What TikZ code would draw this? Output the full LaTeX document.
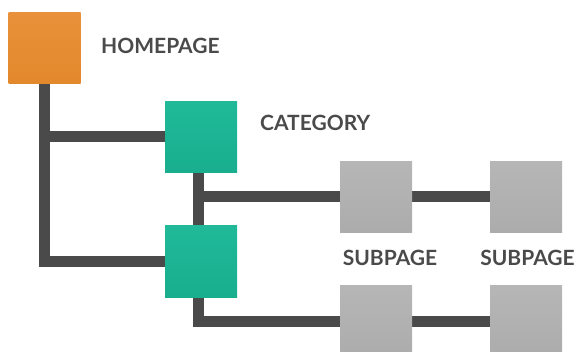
\documentclass[tikz,border=0pt]{standalone}
\usepackage{fontspec}
\setmainfont{Lato}
\usetikzlibrary{backgrounds}
\definecolor{linkgray}{HTML}{4A4A4A}
\definecolor{labelgray}{HTML}{4A4A4A}
\definecolor{homeorange}{HTML}{E3882C}
\definecolor{homeorangeT}{HTML}{E8913A}
\definecolor{catteal}{HTML}{18AE8E}
\definecolor{catlight}{HTML}{20BA99}
\definecolor{subgray}{HTML}{ACACAC}
\definecolor{sublight}{HTML}{B6B6B6}
\tikzset{
  page/.style={rectangle, minimum width=72pt, minimum height=71pt, inner sep=0pt},
  homebox/.style={page, top color=homeorangeT, bottom color=homeorange},
  catbox/.style={page, top color=catlight, bottom color=catteal},
  subbox/.style={page, top color=sublight, bottom color=subgray},
  link/.style={draw=linkgray, line width=11pt, line join=miter},
  pagelabel/.style={font=\bfseries\fontsize{21}{24}\selectfont, text=labelgray, inner sep=0pt}
}
\begin{document}
\begin{tikzpicture}[x=1pt, y=-1pt]
  \useasboundingbox (0,0) rectangle (577,352);
  % pages
  \node[homebox] (home) at (44.5,48.5) {};
  \node[catbox] (cat) at (201,137) {};
  \node[catbox] (cat2) at (201,261.5) {};
  \node[subbox] (sub1) at (376,197) {};
  \node[subbox] (sub2) at (526,197) {};
  \node[subbox] (sub3) at (376,321) {};
  \node[subbox] (sub4) at (526,321) {};
  % labels
  \node[pagelabel, anchor=west] (homelabel) at (101,46) {HOMEPAGE};
  \node[pagelabel, anchor=west] (catlabel) at (260,123) {CATEGORY};
  \node[pagelabel] (sublabel1) at (390,257.5) {SUBPAGE};
  \node[pagelabel] (sublabel2) at (527.5,257.5) {SUBPAGE};
  % connectors behind the pages
  \begin{scope}[on background layer]
    \draw[link] (home.south) |- (cat.west);
    \draw[link] (home.south) |- (cat2.west);
    \draw[link] ([xshift=-3pt]cat.south) |- (sub1.west);
    \draw[link] ([xshift=-3pt]cat.south) -- ([xshift=-3pt]cat2.north);
    \draw[link] ([xshift=-3pt]cat2.south) |- (sub3.west);
    \draw[link] (sub1.east) -- (sub2.west);
    \draw[link] (sub3.east) -- (sub4.west);
  \end{scope}
\end{tikzpicture}
\end{document}
